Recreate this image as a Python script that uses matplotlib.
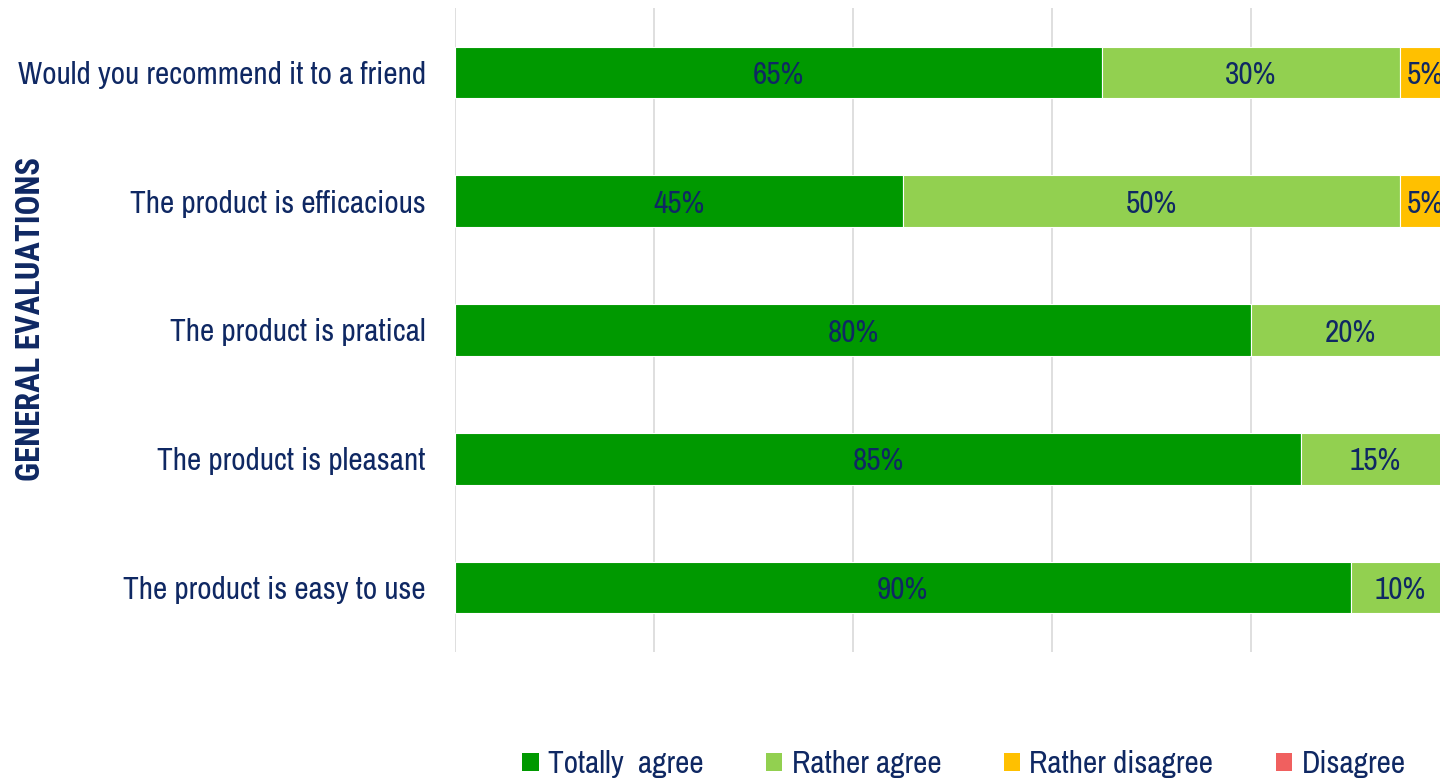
import matplotlib.pyplot as plt
import numpy as np
from matplotlib.patches import Patch

# Data
questions = [
    "Would you recommend it to a friend",
    "The product is efficacious",
    "The product is pratical",
    "The product is pleasant",
    "The product is easy to use",
]
totally_agree = [65, 45, 80, 85, 90]
rather_agree = [30, 50, 20, 15, 10]
rather_disagree = [5, 5, 0, 0, 0]
disagree = [0, 0, 0, 0, 0]

series_names = ["Totally  agree", "Rather agree", "Rather disagree", "Disagree"]
series_vals = [totally_agree, rather_agree, rather_disagree, disagree]
series_colors = ["#009900", "#92D050", "#FFC000", "#F0605F"]

navy = "#0F2863"
plt.rcParams['font.family'] = ['Archivo Narrow', 'Roboto Condensed', 'DejaVu Sans']

fig = plt.figure(figsize=(14.4, 7.81), dpi=100)
ax = fig.add_axes([455 / 1440, 1 - 652 / 781, 995 / 1440, 644 / 781])

y = np.arange(len(questions))
left = np.zeros(len(questions))
for name, vals, col in zip(series_names, series_vals, series_colors):
    vals = np.array(vals, dtype=float)
    bars = ax.barh(y, vals, left=left, height=0.4, color=col,
                   edgecolor="white", linewidth=0.8, label=name, zorder=2)
    for b, v in zip(bars, vals):
        if v > 0:
            ax.text(b.get_x() + b.get_width() / 2, b.get_y() + b.get_height() / 2 + 0.02,
                    f"{v:.0f}%", ha="center", va="center",
                    fontsize=22.5, color=navy, zorder=3)
    left += vals

ax.set_xlim(0, 100)
ax.set_ylim(len(questions) - 0.5, -0.5)
ax.set_xticks([0, 20, 40, 60, 80, 100])
ax.xaxis.grid(True, color="#D9D9D9", linewidth=1.2, zorder=0)
ax.set_xticklabels([])
ax.tick_params(axis="x", length=0)
ax.tick_params(axis="y", length=0, pad=21)
ax.set_yticks(y)
ax.set_yticklabels(questions, fontsize=22.5, color=navy)
for s in ax.spines.values():
    s.set_visible(False)

fig.text(31 / 1440, 1 - 319 / 781, "GENERAL EVALUATIONS", rotation=90,
         ha="center", va="center", fontsize=23.5, fontweight="bold", color=navy,
         family=["Roboto Condensed", "DejaVu Sans"])

handles = [Patch(facecolor=c, edgecolor="none") for c in series_colors]
leg = fig.legend(handles, series_names, loc="center", bbox_to_anchor=(964 / 1440, 1 - 764 / 781),
                 ncol=4, frameon=False, fontsize=22.5, handlelength=0.52, handleheight=0.52,
                 handletextpad=0.3, columnspacing=2.0)
for t in leg.get_texts():
    t.set_color(navy)

fig.savefig("out.png", dpi=100)
